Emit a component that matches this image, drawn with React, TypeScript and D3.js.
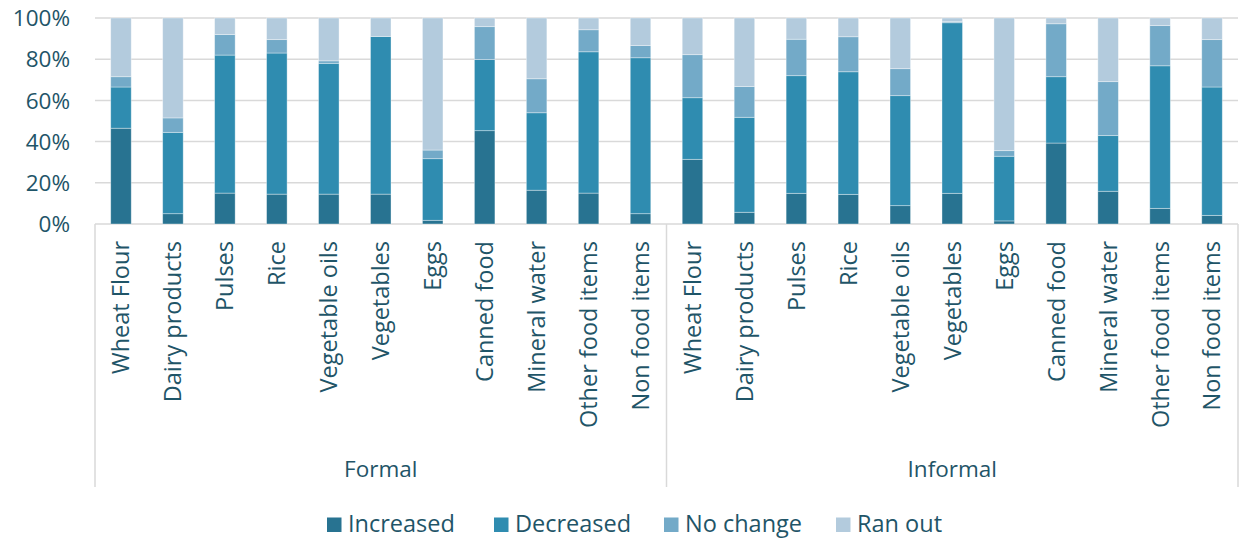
import React from "react";
import * as d3 from "d3";

const groups = ["Formal", "Informal"];
const items = [
  "Wheat Flour",
  "Dairy products",
  "Pulses",
  "Rice",
  "Vegetable oils",
  "Vegetables",
  "Eggs",
  "Canned food",
  "Mineral water",
  "Other food items",
  "Non food items",
];
const seriesNames = ["Increased", "Decreased", "No change", "Ran out"];
const seriesColors = ["#287391", "#2f8cb0", "#73aac8", "#b3cbdd"];

// Formal then Informal, in item order
const increased = [46.5, 5, 15, 14.5, 14.5, 14.5, 1.8, 45.3, 16.4, 15, 5, 31.4, 5.7, 14.9, 14.4, 8.9, 14.9, 1.5, 39.3, 15.9, 7.6, 4.2];
const decreased = [20, 39.5, 67, 68.5, 63.5, 76.5, 29.9, 34.5, 37.6, 68.6, 75.7, 29.9, 46.1, 57.1, 59.5, 53.4, 82.8, 31.4, 32.2, 27, 69.2, 62.3];
const noChange = [5, 7, 10, 6.5, 1.2, 0, 4.2, 16, 16.5, 10.7, 5.9, 20.9, 14.9, 17.7, 17, 13.1, 0.5, 2.7, 25.7, 26.2, 19.5, 23];
const ranOut = [28.5, 48.5, 8, 10.5, 20.8, 9, 64.1, 4.2, 29.5, 5.7, 13.4, 17.8, 33.3, 10.3, 9.1, 24.6, 1.8, 64.4, 2.8, 30.9, 3.7, 10.5];
const yTicks = [0, 20, 40, 60, 80, 100];

const W = 1243;
const H = 540;
const M = { left: 95, right: 1238, top: 18, bottom: 224 };
const TEXT = "#1f5568";
const GRID = "#d9d9d9";
const FONT = "'Open Sans', sans-serif";

type Row = { key: string; group: string; item: string; values: number[] };

const rows: Row[] = [];
groups.forEach((g, gi) => {
  items.forEach((it, ii) => {
    const i = gi * items.length + ii;
    rows.push({
      key: g + "|" + it,
      group: g,
      item: it,
      values: [increased[i], decreased[i], noChange[i], ranOut[i]],
    });
  });
});

export default function App() {
  const x = d3
    .scaleBand<string>()
    .domain(rows.map((r) => r.key))
    .range([M.left, M.right])
    .paddingInner(0.605)
    .paddingOuter(0.3025);
  const y = d3.scaleLinear().domain([0, 100]).range([M.bottom, M.top]);

  const stackData = rows.map((r) => {
    const total = d3.sum(r.values);
    const o: any = { key: r.key };
    seriesNames.forEach((s, si) => (o[s] = (r.values[si] / total) * 100));
    return o;
  });
  const stacked = d3.stack<any>().keys(seriesNames)(stackData);

  const step = x.step();
  const groupBounds = groups.map((g, gi) => {
    const x0 = M.left + gi * items.length * step;
    const x1 = x0 + items.length * step;
    return { g, x0, x1 };
  });
  const sepX = [M.left, ...groupBounds.map((b) => b.x1)];

  const legendX = [327, 494, 664, 836];

  return (
    <svg
      width={W}
      height={H}
      style={{ position: "absolute", left: 0, top: 0, background: "#fff" }}
      fontFamily={FONT}
    >
      {yTicks.map((t) => (
        <g key={t}>
          <line x1={M.left} x2={M.right} y1={y(t)} y2={y(t)} stroke={GRID} strokeWidth={1.5} />
          <text x={70} y={y(t)} dy="0.36em" textAnchor="end" fontSize={22.5} fill={TEXT}>
            {t}%
          </text>
        </g>
      ))}
      {sepX.map((sx, i) => (
        <line key={i} x1={sx} x2={sx} y1={M.bottom} y2={487} stroke={GRID} strokeWidth={1.5} />
      ))}
      {stacked.map((layer, li) => (
        <g key={layer.key} fill={seriesColors[li]}>
          {layer.map((d: any, di: number) => (
            <rect
              key={di}
              x={x(d.data.key)}
              width={x.bandwidth()}
              y={y(d[1])}
              height={Math.max(0, y(d[0]) - y(d[1]))}
              stroke="#ffffff"
              strokeOpacity={0.45}
              strokeWidth={0.8}
            />
          ))}
        </g>
      ))}
      {rows.map((r) => {
        const cx = (x(r.key) as number) + x.bandwidth() / 2;
        return (
          <text
            key={r.key}
            transform={`translate(${cx},241) rotate(-90)`}
            dy="0.36em"
            textAnchor="end"
            fontSize={23.5}
            fill={TEXT}
          >
            {r.item}
          </text>
        );
      })}
      {groupBounds.map((b) => (
        <text key={b.g} x={(b.x0 + b.x1) / 2} y={477} textAnchor="middle" fontSize={22.5} fill={TEXT}>
          {b.g}
        </text>
      ))}
      {seriesNames.map((s, i) => (
        <g key={s}>
          <rect x={legendX[i]} y={517.5} width={14.5} height={14.5} fill={seriesColors[i]} />
          <text x={legendX[i] + 21} y={531.5} fontSize={23.5} fill={TEXT}>
            {s}
          </text>
        </g>
      ))}
    </svg>
  );
}
